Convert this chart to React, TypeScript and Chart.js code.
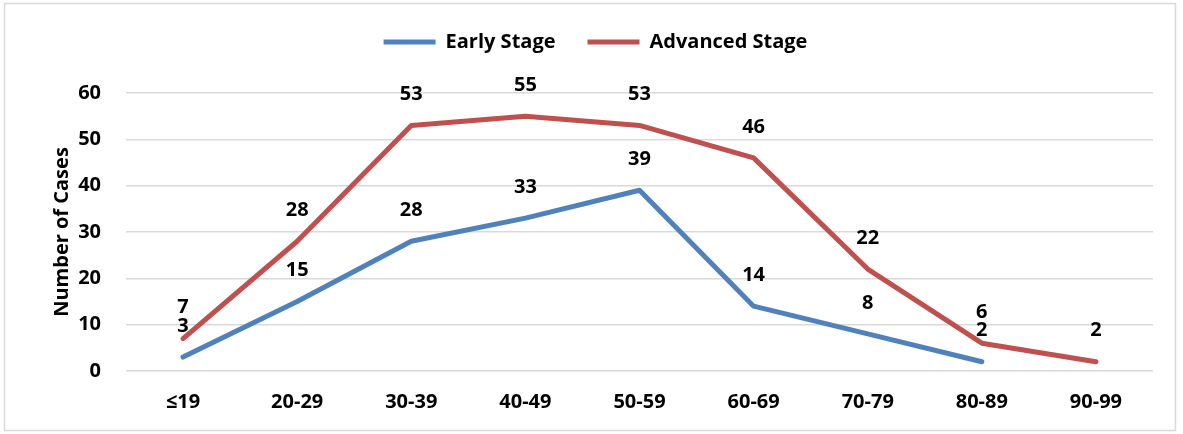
import React, { useEffect, useRef } from 'react';
import { Chart, registerables } from 'chart.js';
import type { Plugin } from 'chart.js';

Chart.register(...registerables);

const ageGroups = ['≤19', '20-29', '30-39', '40-49', '50-59', '60-69', '70-79', '80-89', '90-99'];
const earlyStage: (number | null)[] = [3, 15, 28, 33, 39, 14, 8, 2, null];
const advancedStage: number[] = [7, 28, 53, 55, 53, 46, 22, 6, 2];

const FONT = '"Open Sans", Lato, sans-serif';
const FONT_SIZE = 20;
const TEXT = '#000000';
const GRID = '#D9D9D9';

Chart.defaults.font.family = FONT;
Chart.defaults.font.size = FONT_SIZE;
Chart.defaults.font.weight = 'bold';
Chart.defaults.color = TEXT;

// outer frame like the spreadsheet chart border
const framePlugin: Plugin<'line'> = {
  id: 'frame',
  beforeDraw(chart) {
    const ctx = chart.ctx;
    ctx.save();
    ctx.fillStyle = '#ffffff';
    ctx.fillRect(0, 0, chart.width, chart.height);
    ctx.strokeStyle = GRID;
    ctx.lineWidth = 1.5;
    ctx.strokeRect(4.5, 3.5, chart.width - 12, chart.height - 7);
    ctx.restore();
  }
};

// extra space under the legend
const legendGapPlugin: Plugin<'line'> = {
  id: 'legendGap',
  beforeInit(chart: any) {
    if (!chart.legend) return;
    const fit = chart.legend.fit;
    chart.legend.fit = function () {
      fit.bind(chart.legend)();
      this.height += 31;
    };
  }
};

// value labels above each point
const valueLabels: Plugin<'line'> = {
  id: 'valueLabels',
  afterDatasetsDraw(chart) {
    const ctx = chart.ctx;
    ctx.save();
    ctx.font = `bold ${FONT_SIZE}px ${FONT}`;
    ctx.fillStyle = TEXT;
    ctx.textAlign = 'center';
    ctx.textBaseline = 'middle';
    chart.data.datasets.forEach((ds, i) => {
      const meta = chart.getDatasetMeta(i);
      meta.data.forEach((pt, j) => {
        const v = ds.data[j];
        if (v === null || v === undefined) return;
        ctx.fillText(String(v), pt.x, pt.y - 31);
      });
    });
    ctx.restore();
  }
};

export default function App() {
  const chartRef = useRef<HTMLCanvasElement>(null);
  const chartInstanceRef = useRef<Chart | null>(null);

  useEffect(() => {
    if (!chartRef.current) return;
    const ctx = chartRef.current.getContext('2d');
    if (!ctx) return;

    if (chartInstanceRef.current) {
      chartInstanceRef.current.destroy();
    }

    const font = { family: FONT, size: FONT_SIZE, weight: 'bold' as const };

    chartInstanceRef.current = new Chart(ctx, {
      type: 'line',
      data: {
        labels: ageGroups,
        datasets: [
          {
            label: 'Early Stage',
            data: earlyStage,
            borderColor: '#4F81BD',
            backgroundColor: '#4F81BD',
            borderWidth: 5,
            borderCapStyle: 'round',
            borderJoinStyle: 'round',
            pointRadius: 0,
            pointHoverRadius: 0,
            tension: 0
          },
          {
            label: 'Advanced Stage',
            data: advancedStage,
            borderColor: '#C0504D',
            backgroundColor: '#C0504D',
            borderWidth: 5,
            borderCapStyle: 'round',
            borderJoinStyle: 'round',
            pointRadius: 0,
            pointHoverRadius: 0,
            tension: 0
          }
        ]
      },
      options: {
        responsive: true,
        maintainAspectRatio: false,
        animation: false,
        layout: {
          padding: { top: 0, right: 30, bottom: 21, left: 38 }
        },
        scales: {
          x: {
            offset: true,
            grid: { display: false, drawTicks: false },
            border: { display: false },
            ticks: { color: TEXT, padding: 19, font },
            afterFit(scale) {
              scale.height = 42;
            }
          },
          y: {
            min: 0,
            max: 60,
            grid: { color: GRID, lineWidth: 1.5, drawTicks: false },
            border: { display: false },
            ticks: { stepSize: 10, color: TEXT, padding: 25, font },
            title: {
              display: true,
              text: 'Number of Cases',
              color: TEXT,
              padding: { top: 12, bottom: 4 },
              font
            },
            afterFit(scale) {
              scale.width = 88;
            }
          }
        },
        plugins: {
          legend: {
            display: true,
            position: 'top',
            labels: {
              usePointStyle: true,
              pointStyle: 'line',
              pointStyleWidth: 52,
              padding: 32,
              color: TEXT,
              font
            }
          },
          tooltip: { enabled: false }
        }
      },
      plugins: [framePlugin, legendGapPlugin, valueLabels]
    });

    return () => {
      if (chartInstanceRef.current) {
        chartInstanceRef.current.destroy();
        chartInstanceRef.current = null;
      }
    };
  }, []);

  return (
    <div style={{ position: 'fixed', left: 0, top: 0, width: 1183, height: 434 }}>
      <canvas ref={chartRef}></canvas>
    </div>
  );
}
